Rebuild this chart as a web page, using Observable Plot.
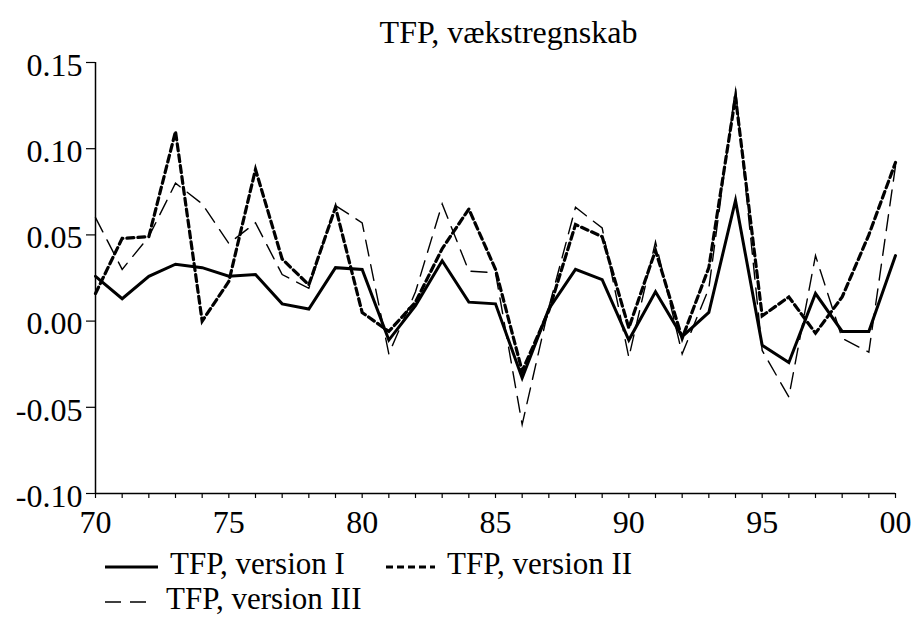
<!DOCTYPE html>
<html>
<head>
<meta charset="utf-8">
<script src="https://cdn.jsdelivr.net/npm/d3@7"></script>
<script src="https://cdn.jsdelivr.net/npm/@observablehq/plot@0.6"></script>
</head>
<body style="margin:0;background:#fff;font-family:'Liberation Serif'">
<div id="wrap" style="width:913px;height:617px;position:relative;overflow:hidden;font-family:'Liberation Serif'">
  <div id="chart" style="position:absolute;left:0;top:0"></div>
  <div id="title" style="position:absolute;left:104px;top:13px;width:809px;text-align:center;font-family:'Liberation Serif';font-size:32px;line-height:38px;color:#000">TFP, vækstregnskab</div>
</div>
<script>
const years = [1970,1971,1972,1973,1974,1975,1976,1977,1978,1979,1980,1981,1982,1983,1984,1985,1986,1987,1988,1989,1990,1991,1992,1993,1994,1995,1996,1997,1998,1999,2000];
const versionI = [0.026,0.013,0.026,0.033,0.031,0.026,0.027,0.010,0.007,0.031,0.030,-0.011,0.009,0.035,0.011,0.010,-0.033,0.007,0.030,0.024,-0.011,0.017,-0.009,0.005,0.070,-0.014,-0.024,0.016,-0.006,-0.006,0.038];
const versionII = [0.016,0.048,0.049,0.110,0.000,0.023,0.088,0.036,0.021,0.066,0.005,-0.006,0.011,0.042,0.065,0.030,-0.029,0.006,0.056,0.049,-0.004,0.041,-0.010,0.031,0.130,0.003,0.014,-0.007,0.014,0.050,0.092];
const versionIII = [0.060,0.030,0.049,0.080,0.068,0.045,0.057,0.027,0.019,0.067,0.057,-0.019,0.017,0.068,0.029,0.028,-0.060,0.008,0.066,0.054,-0.021,0.046,-0.019,0.019,0.135,-0.017,-0.044,0.038,-0.010,-0.018,0.090];
const seriesNames = ["TFP, version I", "TFP, version II", "TFP, version III"];
const yTicks = [-0.10, -0.05, 0.00, 0.05, 0.10, 0.15];
const xLabelYears = [1970, 1975, 1980, 1985, 1990, 1995, 2000];

const FONT = "'Liberation Serif'";
const styles = [
  {stroke: "#000", strokeWidth: 3, dash: null},
  {stroke: "#000", strokeWidth: 3.2, dash: "7,4"},
  {stroke: "#000", strokeWidth: 1.4, dash: "16,9"}
];
const allSeries = [versionI, versionII, versionIII];

const lineMarks = allSeries.map((vals, k) =>
  Plot.line(years.map((y, i) => ({year: y, v: vals[i]})), {
    x: "year", y: "v",
    stroke: styles[k].stroke,
    strokeWidth: styles[k].strokeWidth,
    strokeDasharray: styles[k].dash,
    strokeLinejoin: "miter",
    strokeMiterlimit: 10
  })
);

const chart = Plot.plot({
  width: 913,
  height: 550,
  marginTop: 62,
  marginBottom: 57,
  marginLeft: 95,
  marginRight: 18,
  style: {fontFamily: FONT, fontSize: "32px", color: "#000", background: "transparent", overflow: "visible"},
  x: {domain: [1970, 2000]},
  y: {domain: [-0.10, 0.15]},
  marks: [
    Plot.axisX({ticks: years, tickSize: 5, tickFormat: () => "", label: null, strokeWidth: 1.2}),
    Plot.axisX({ticks: xLabelYears, tickSize: 0, tickPadding: 17, tickFormat: d => String(d % 100).padStart(2, "0"), label: null, fontSize: 32}),
    Plot.axisY({ticks: yTicks, tickSize: 9, tickFormat: () => "", label: null, strokeWidth: 1.2}),
    Plot.axisY({ticks: yTicks, tickSize: 0, tickPadding: 13, dy: 3, tickFormat: d => d.toFixed(2), label: null, fontSize: 32}),
    Plot.ruleY([-0.10], {strokeWidth: 1.5}),
    Plot.ruleX([1970], {strokeWidth: 1.5}),
    ...lineMarks
  ]
});
chart.style.fontFamily = FONT;
document.getElementById("chart").appendChild(chart);

function swatch(k, w) {
  const s = styles[k];
  return `<svg width="${w}" height="10" style="vertical-align:middle"><line x1="0" y1="5" x2="${w}" y2="5" stroke="${s.stroke}" stroke-width="${s.strokeWidth}" ${s.dash ? `stroke-dasharray="${s.dash}"` : ""}/></svg>`;
}
const legendPos = [
  {left: 105, top: 550, w: 53, gap: 12},
  {left: 386, top: 550, w: 49, gap: 12},
  {left: 105, top: 585, w: 44, gap: 17}
];
const wrap = document.getElementById("wrap");
seriesNames.forEach((name, k) => {
  const d = document.createElement("div");
  d.style.cssText = `position:absolute;left:${legendPos[k].left}px;top:${legendPos[k].top}px;font-family:'Liberation Serif';font-size:31px;line-height:28px;height:28px;color:#000;white-space:nowrap`;
  d.innerHTML = swatch(k, legendPos[k].w) + `<span style="margin-left:${legendPos[k].gap}px;font-family:'Liberation Serif'">${name}</span>`;
  wrap.appendChild(d);
});
</script>
</body>
</html>
